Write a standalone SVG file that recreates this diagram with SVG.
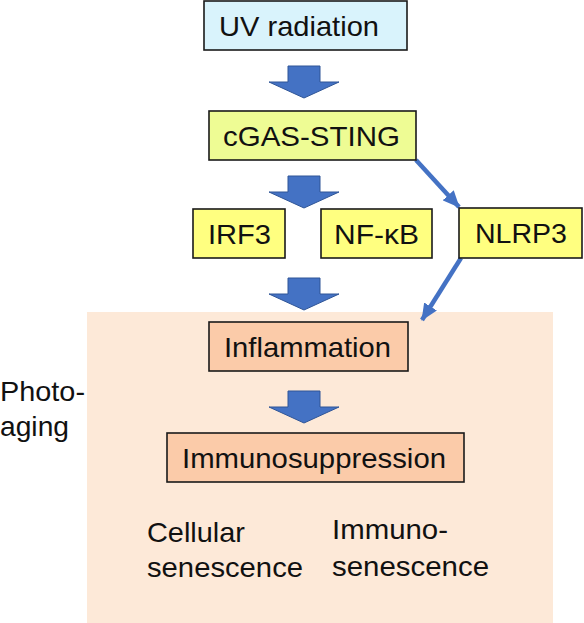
<svg xmlns="http://www.w3.org/2000/svg" width="584" height="623" viewBox="0 0 584 623">
<defs>
<style>
.box{stroke:#1a1a1a;stroke-width:1.6}
.t{font-family:"Liberation Sans",Arial,sans-serif;font-size:28px;fill:#111}
.blk{fill:#4472c4;stroke:#2f5597;stroke-width:1}
.ln{stroke:#4472c4;stroke-width:4.5;fill:none}
</style>
<marker id="ah" markerUnits="userSpaceOnUse" viewBox="0 0 17 15" markerWidth="17" markerHeight="15" refX="16" refY="7.5" orient="auto">
<path d="M0,0 L17,7.5 L0,15 Z" fill="#4472c4"/>
</marker>
<path id="bigArrow" d="M-16,0 H16 V16 H35 L0,32 L-35,16 H-16 Z"/>
</defs>
<rect id="panel" x="87" y="312" width="466" height="311" fill="#fde9d8"/>
<g id="connectors">
<use href="#bigArrow" class="blk" transform="translate(304,66)"/>
<use href="#bigArrow" class="blk" transform="translate(304,176)"/>
<use href="#bigArrow" class="blk" transform="translate(304,278)"/>
<use href="#bigArrow" class="blk" transform="translate(304,391)"/>
<line class="ln" x1="416" y1="160" x2="459" y2="207" marker-end="url(#ah)"/>
<line class="ln" x1="461" y1="258" x2="422" y2="320" marker-end="url(#ah)"/>
</g>
<g id="uv">
<rect class="box" x="204" y="1" width="203" height="49" fill="#d9f3fc"/>
<text class="t" x="219" y="36" textLength="160" lengthAdjust="spacingAndGlyphs">UV radiation</text>
</g>
<g id="cgas">
<rect class="box" x="209" y="111" width="207" height="49" fill="#eefc94"/>
<text class="t" x="223" y="146" textLength="177" lengthAdjust="spacingAndGlyphs">cGAS-STING</text>
</g>
<g id="irf3">
<rect class="box" x="193" y="209" width="92" height="49" fill="#ffff80"/>
<text class="t" x="208" y="244" textLength="63" lengthAdjust="spacingAndGlyphs">IRF3</text>
</g>
<g id="nfkb">
<rect class="box" x="321" y="209" width="111" height="49" fill="#ffff80"/>
<text class="t" x="334" y="244" textLength="85" lengthAdjust="spacingAndGlyphs">NF-κB</text>
</g>
<g id="nlrp3">
<rect class="box" x="459" y="208" width="123" height="50" fill="#ffff80"/>
<text class="t" x="475" y="243" textLength="92" lengthAdjust="spacingAndGlyphs">NLRP3</text>
</g>
<g id="inflammation">
<rect class="box" x="209" y="322" width="199" height="49" fill="#fbcba9"/>
<text class="t" x="224" y="357" textLength="167" lengthAdjust="spacingAndGlyphs">Inflammation</text>
</g>
<g id="immunosuppression">
<rect class="box" x="167" y="433" width="297" height="49" fill="#fbcba9"/>
<text class="t" x="182" y="468" textLength="264" lengthAdjust="spacingAndGlyphs">Immunosuppression</text>
</g>
<g id="photoaging">
<text class="t" x="0" y="401" textLength="85" lengthAdjust="spacingAndGlyphs">Photo-</text>
<text class="t" x="0" y="436" textLength="69" lengthAdjust="spacingAndGlyphs">aging</text>
</g>
<g id="cellular">
<text class="t" x="147" y="542" textLength="98" lengthAdjust="spacingAndGlyphs">Cellular</text>
<text class="t" x="147" y="577" textLength="156" lengthAdjust="spacingAndGlyphs">senescence</text>
</g>
<g id="immunosenescence">
<text class="t" x="332" y="539" textLength="116" lengthAdjust="spacingAndGlyphs">Immuno-</text>
<text class="t" x="332" y="576" textLength="157" lengthAdjust="spacingAndGlyphs">senescence</text>
</g>
</svg>
